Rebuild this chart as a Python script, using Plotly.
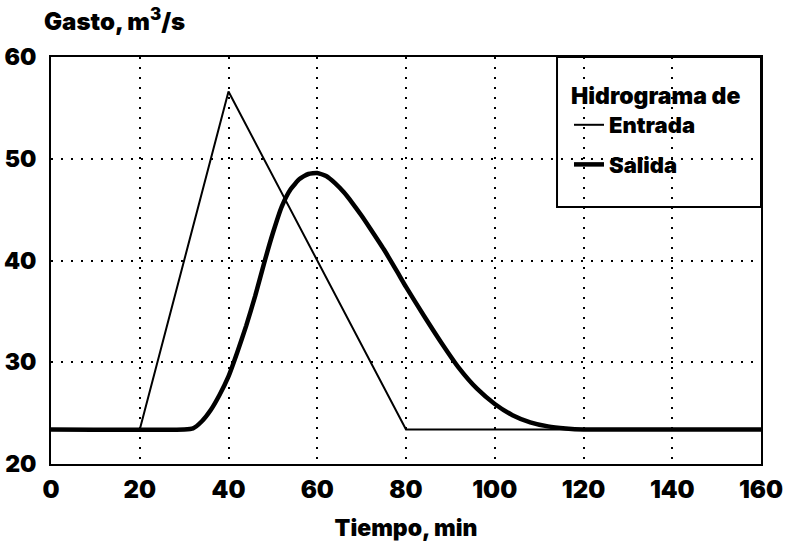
import plotly.graph_objects as go

# Data
entrada_t = [0, 20, 40, 80, 160]
entrada_q = [23.4, 23.4, 56.6, 23.4, 23.4]

salida_t = [0, 30, 32, 34, 36, 38, 40, 42, 44, 46, 48, 50, 52, 54, 56, 58, 60, 62, 64, 66,
            68, 70, 72, 75, 78, 80, 84, 88, 92, 96, 100, 104, 108, 112, 116, 120, 160]
salida_q = [23.4, 23.4, 23.5, 24.2, 25.3, 26.8, 28.6, 31.0, 33.6, 36.5, 39.7, 42.7, 45.3, 47.0,
            48.0, 48.5, 48.6, 48.3, 47.6, 46.7, 45.6, 44.4, 43.1, 41.1, 38.9, 37.4, 34.6, 31.9,
            29.4, 27.4, 25.9, 24.8, 24.1, 23.7, 23.5, 23.4, 23.4]

x_ticks = [0, 20, 40, 60, 80, 100, 120, 140, 160]
y_ticks = [20, 30, 40, 50, 60]

FONT = "Inter"
W = 900

fig = go.Figure()
fig.add_trace(go.Scatter(x=entrada_t, y=entrada_q, mode="lines", name="Entrada",
                         legendgroup="a", line=dict(color="black", width=2)))
fig.add_trace(go.Scatter(x=salida_t, y=salida_q, mode="lines", name="Salida",
                         legendgroup="b", line=dict(color="black", width=4.5, shape="spline", smoothing=0.5)))

fig.update_layout(
    width=787, height=548,
    margin=dict(l=51, r=26, t=57, b=84),
    paper_bgcolor="white", plot_bgcolor="white",
    font=dict(family=FONT, color="black", size=22, weight=W),
    showlegend=True,
    legend=dict(
        x=0.7296, y=0.958, xanchor="left", yanchor="top",
        borderwidth=0, bgcolor="rgba(0,0,0,0)",
        title=dict(text="Hidrograma de", font=dict(family=FONT, size=23, weight=W)),
        font=dict(family=FONT, size=22, weight=W),
        itemwidth=30, tracegroupgap=8,
    ),
    shapes=[dict(type="rect", xref="paper", yref="paper",
                 x0=0.7127, x1=1.0, y0=0.6314, y1=1.0,
                 line=dict(color="black", width=2), fillcolor="white", layer="below")],
    xaxis=dict(
        range=[0, 160], tickvals=x_ticks, showgrid=True, automargin=False,
        gridcolor="black", griddash="2px,8px", gridwidth=2,
        showline=True, linecolor="black", linewidth=2, mirror=True,
        zeroline=False, ticks="", ticklabelstandoff=3,
        tickfont=dict(family=FONT, size=24, weight=W),
        title=dict(text="Tiempo, min", font=dict(family=FONT, size=23, weight=W), standoff=17),
    ),
    yaxis=dict(
        range=[20, 60], tickvals=y_ticks, showgrid=True, automargin=False,
        gridcolor="black", griddash="2px,8px", gridwidth=2,
        showline=True, linecolor="black", linewidth=2, mirror=True,
        zeroline=False, ticks="", ticklabelstandoff=8,
        tickfont=dict(family=FONT, size=23, weight=W),
    ),
    annotations=[dict(
        text="Gasto, m<sup>3</sup>/s", xref="paper", yref="paper",
        x=-0.012, y=1.0, xanchor="left", yanchor="bottom", yshift=19,
        showarrow=False, font=dict(family=FONT, size=24, weight=W),
    )],
)

fig.write_html("out.html")
